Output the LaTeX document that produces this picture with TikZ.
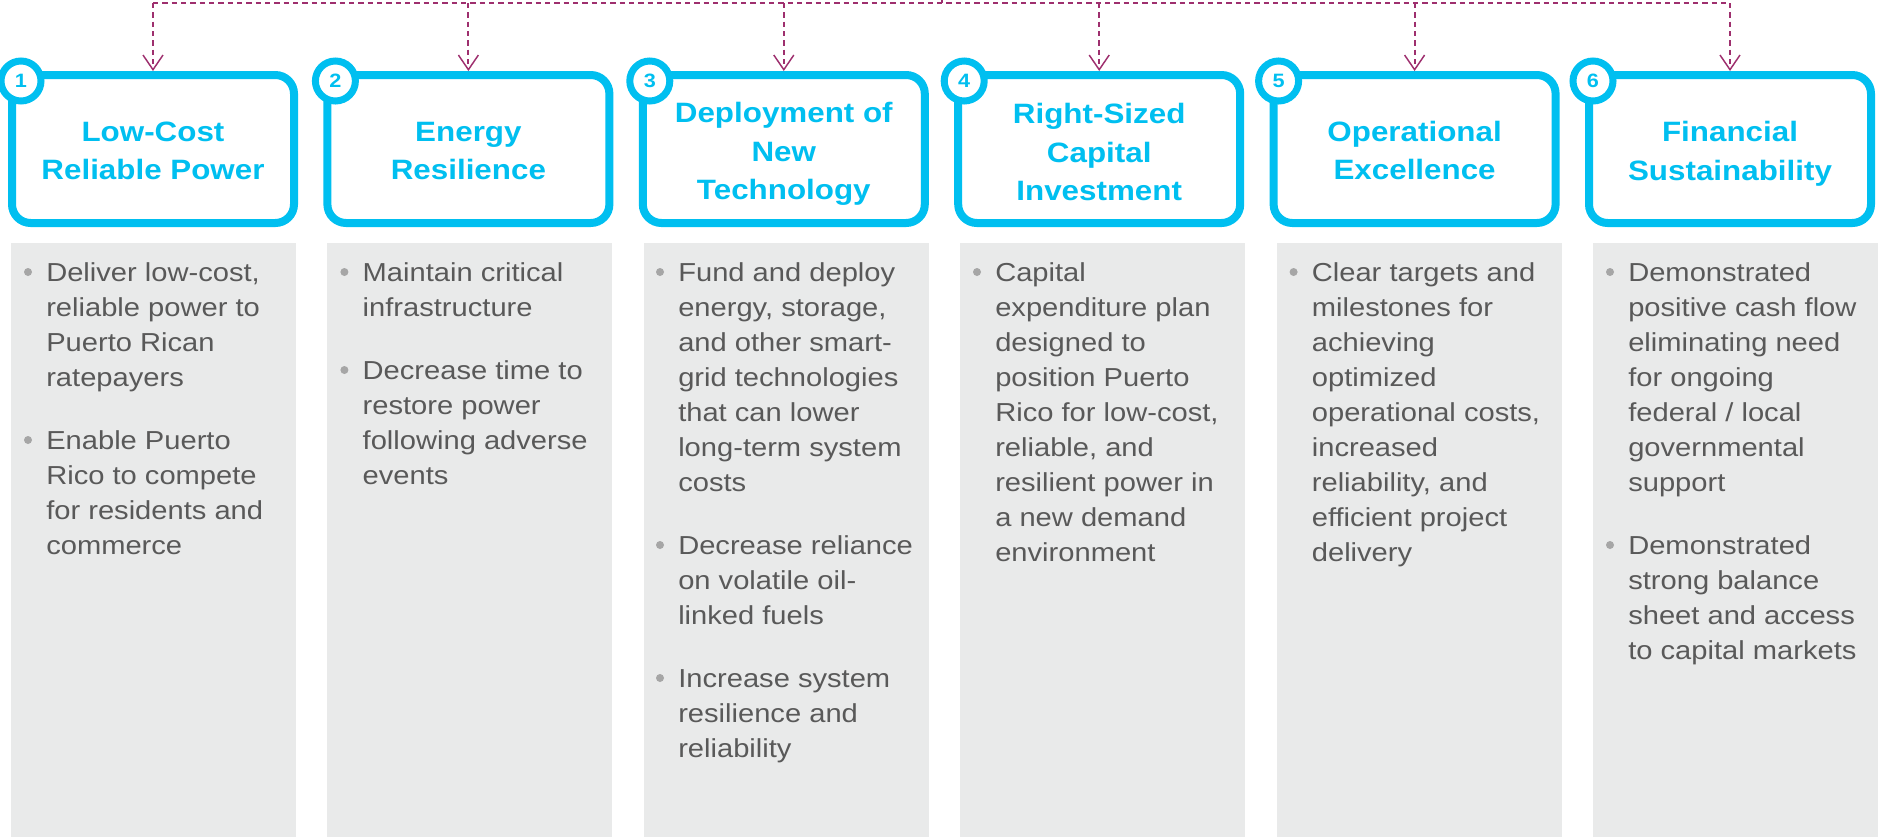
\documentclass[tikz,border=0pt]{standalone}
\usepackage{fontspec}
\setmainfont{Liberation Sans}[FakeStretch=1.12]
\usetikzlibrary{arrows.meta}
\definecolor{cy}{HTML}{00BFF0}
\definecolor{pgray}{HTML}{E9EAEA}
\definecolor{tgray}{HTML}{595959}
\definecolor{bgray}{HTML}{A6A6A6}
\definecolor{plum}{HTML}{9E2F6E}
\begin{document}
\begin{tikzpicture}[x=0.75pt,y=-0.75pt,
  titlebox/.style={draw=cy, line width=6pt, rounded corners=14pt, minimum width=211.5pt, minimum height=111pt, fill=white, inner sep=0pt},
  titletext/.style={align=center, font=\fontsize{21pt}{28.9pt}\selectfont\bfseries, text=cy, inner sep=0pt},
  badge/.style={circle, draw=cy, line width=5.25pt, fill=white, minimum size=30pt, inner sep=0pt, font=\fontsize{14.5pt}{16pt}\selectfont\bfseries, text=cy},
  panel/.style={fill=pgray, minimum width=213.75pt, minimum height=450pt, inner sep=0pt, anchor=north},
  btext/.style={anchor=base west, align=left, inner sep=0pt, font=\fontsize{19.5pt}{26.25pt}\selectfont, text=tgray},
  dot/.style={circle, fill=bgray, minimum size=6pt, inner sep=0pt},
  link/.style={draw=plum, line width=1.5pt, dash pattern=on 4pt off 3pt},
  tip/.style={-{Straight Barb[length=11pt,width=15pt,line width=1.1pt]}}
]
\useasboundingbox (0,0) rectangle (1879,836);

% grey panels
\node[panel] (p1) at (153.5,243) {};
\node[panel] (p2) at (469.9,243) {};
\node[panel] (p3) at (786.3,243) {};
\node[panel] (p4) at (1102.7,243) {};
\node[panel] (p5) at (1419.1,243) {};
\node[panel] (p6) at (1735.5,243) {};

% title boxes
\node[titlebox] (b1) at (153,149) {};
\node[titlebox] (b2) at (468.4,149) {};
\node[titlebox] (b3) at (783.8,149) {};
\node[titlebox] (b4) at (1099.2,149) {};
\node[titlebox] (b5) at (1414.6,149) {};
\node[titlebox] (b6) at (1730,149) {};
\node[titletext] (l1) at (153,151) {Low-Cost\\Reliable Power};
\node[titletext] (l2) at (468.4,151) {Energy\\Resilience};
\node[titletext] (l3) at (783.8,154) {Deployment of\\New\\Technology};
\node[titletext] (l4) at (1099.2,152) {Right-Sized\\Capital\\Investment};
\node[titletext] (l5) at (1414.6,150.5) {Operational\\Excellence};
\node[titletext] (l6) at (1730,154) {Financial\\Sustainability};

% badges
\node[badge] (n1) at (21,81) {1};
\node[badge] (n2) at (335.4,81) {2};
\node[badge] (n3) at (649.8,81) {3};
\node[badge] (n4) at (964.2,81) {4};
\node[badge] (n5) at (1278.6,81) {5};
\node[badge] (n6) at (1593,81) {6};

% dashed connectors
\coordinate (src) at (942,-20);
\coordinate (hs) at (942,3);
\coordinate (h1) at (153,3);
\coordinate (h2) at (468.4,3);
\coordinate (h3) at (783.8,3);
\coordinate (h4) at (1099.2,3);
\coordinate (h5) at (1414.6,3);
\coordinate (h6) at (1730,3);
\draw[link] (src) -- (hs);
\draw[link] (h1) -- (h6);
\draw[link,tip] (h1) -- (b1.north);
\draw[link,tip] (h2) -- (b2.north);
\draw[link,tip] (h3) -- (b3.north);
\draw[link,tip] (h4) -- (b4.north);
\draw[link,tip] (h5) -- (b5.north);
\draw[link,tip] (h6) -- (b6.north);

% column 1
\node[dot] (d11) at (28,272) {};
\node[btext] (t11) at (46,386) {Deliver low-cost,\\reliable power to\\Puerto Rican\\ratepayers};
\node[dot] (d12) at (28,440) {};
\node[btext] (t12) at (46,554) {Enable Puerto\\Rico to compete\\for residents and\\commerce};

% column 2
\node[dot] (d21) at (344.4,272) {};
\node[btext] (t21) at (362.4,316) {Maintain critical\\infrastructure};
\node[dot] (d22) at (344.4,370) {};
\node[btext] (t22) at (362.4,484) {Decrease time to\\restore power\\following adverse\\events};

% column 3
\node[dot] (d31) at (660,272) {};
\node[btext] (t31) at (678,491) {Fund and deploy\\energy, storage,\\and other smart-\\grid technologies\\that can lower\\long-term system\\costs};
\node[dot] (d32) at (660,545) {};
\node[btext] (t32) at (678,624) {Decrease reliance\\on volatile oil-\\linked fuels};
\node[dot] (d33) at (660,678) {};
\node[btext] (t33) at (678,757) {Increase system\\resilience and\\reliability};

% column 4
\node[dot] (d41) at (977,272) {};
\node[btext] (t41) at (995,561) {Capital\\expenditure plan\\designed to\\position Puerto\\Rico for low-cost,\\reliable, and\\resilient power in\\a new demand\\environment};

% column 5
\node[dot] (d51) at (1293.6,272) {};
\node[btext] (t51) at (1311.6,561) {Clear targets and\\milestones for\\achieving\\optimized\\operational costs,\\increased\\reliability, and\\efficient project\\delivery};

% column 6
\node[dot] (d61) at (1610,272) {};
\node[btext] (t61) at (1628,491) {Demonstrated\\positive cash flow\\eliminating need\\for ongoing\\federal / local\\governmental\\support};
\node[dot] (d62) at (1610,545) {};
\node[btext] (t62) at (1628,659) {Demonstrated\\strong balance\\sheet and access\\to capital markets};
\end{tikzpicture}
\end{document}
